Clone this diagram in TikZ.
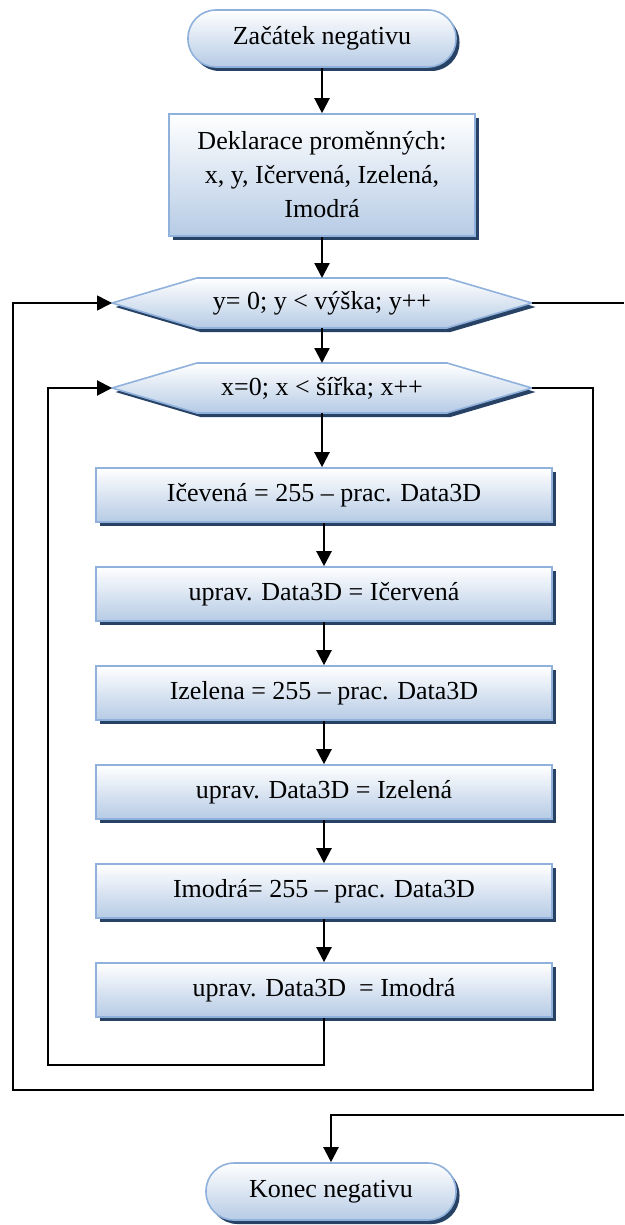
\documentclass[tikz,border=0pt]{standalone}
\usepackage{fontspec}
\setmainfont{Liberation Serif}
\usetikzlibrary{shadows,arrows.meta}

\definecolor{flowborder}{RGB}{143,177,219}
\definecolor{flowtop}{RGB}{255,255,255}
\definecolor{flowbottom}{RGB}{182,203,229}
\definecolor{flowshadow}{RGB}{40,66,102}

\tikzset{
  flowfill/.style={draw=flowborder, line width=1.6pt,
    top color=flowtop, bottom color=flowbottom,
    drop shadow={shadow xshift=3.5pt, shadow yshift=-4pt,
      fill=flowshadow, opacity=1}},
  terminal/.style={flowfill, rounded corners=28pt, minimum width=268pt,
    minimum height=57pt, inner sep=0pt},
  procbox/.style={flowfill, minimum width=456pt, minimum height=54pt,
    inner sep=0pt},
  hextext/.style={inner sep=0pt},
  flowline/.style={line width=2.2pt, draw=black},
  flowarrow/.style={flowline, -{Triangle[length=15pt,width=15pt]}},
  thinline/.style={line width=1.6pt}
}

\begin{document}
\begin{tikzpicture}[x=1pt, y=-1pt, font=\fontsize{26}{34}\selectfont]
\useasboundingbox (0,0) rectangle (624,1225);

% start and declarations
\node[terminal] (start) at (322,38.5) {Začátek negativu};
\node[procbox, minimum width=306pt, minimum height=122pt, align=center]
  (decl) at (322,175) {Deklarace proměnných:\\ x, y, Ičervená, Izelená,\\ Imodrá};

% outer loop header (rows)
\path[flowfill] (112,303) -- (197,278) -- (447,278) -- (532,303)
  -- (447,328) -- (197,328) -- cycle;
\node[hextext] (yloop) at (322,303) {y= 0; y < výška; y++};
\coordinate (yN) at (322,278);
\coordinate (yS) at (322,328);
\coordinate (yW) at (112,303);
\coordinate (yE) at (532,303);

% inner loop header (columns)
\path[flowfill] (112,388) -- (197,363) -- (447,363) -- (532,388)
  -- (447,413) -- (197,413) -- cycle;
\node[hextext] (xloop) at (322,388) {x=0; x < šířka; x++};
\coordinate (xN) at (322,363);
\coordinate (xS) at (322,413);
\coordinate (xW) at (112,388);
\coordinate (xE) at (532,388);

% loop body
\node[procbox] (b1) at (324,495) {Ičevená = 255 – prac. Data3D};
\node[procbox] (b2) at (324,594) {uprav. Data3D = Ičervená};
\node[procbox] (b3) at (324,693) {Izelena = 255 – prac. Data3D};
\node[procbox] (b4) at (324,792) {uprav. Data3D = Izelená};
\node[procbox] (b5) at (324,891) {Imodrá= 255 – prac. Data3D};
\node[procbox] (b6) at (324,990) {uprav. Data3D~ = Imodrá};

% end
\node[terminal, minimum width=250pt] (finish) at (331,1191.5) {Konec negativu};

% routing points
\coordinate (innerC) at (48,1065);
\coordinate (outerR) at (593,1090);
\coordinate (outerL) at (13,303);
\coordinate (exitTop) at (624,303);
\coordinate (exitBot) at (624,1115);

% main flow
\draw[flowarrow] (start.south) -- (decl.north);
\draw[flowarrow] (decl.south) -- (yN);
\draw[flowarrow] (yS) -- (xN);
\draw[flowarrow] (xS) -- (xS |- b1.north);
\draw[flowarrow] (b1.south) -- (b2.north);
\draw[flowarrow] (b2.south) -- (b3.north);
\draw[flowarrow] (b3.south) -- (b4.north);
\draw[flowarrow] (b4.south) -- (b5.north);
\draw[flowarrow] (b5.south) -- (b6.north);

% inner loop back edge
\draw[flowarrow] (b6.south) |- (innerC) |- (xW);

% inner loop exit back to the outer header
\draw[flowarrow, thinline] (xE) -| (outerR) -| (outerL) -- (yW);

% outer loop exit
\draw[flowline] (yE) -- (exitTop);
\draw[flowarrow] (exitBot) -| (finish.north);
\end{tikzpicture}
\end{document}
